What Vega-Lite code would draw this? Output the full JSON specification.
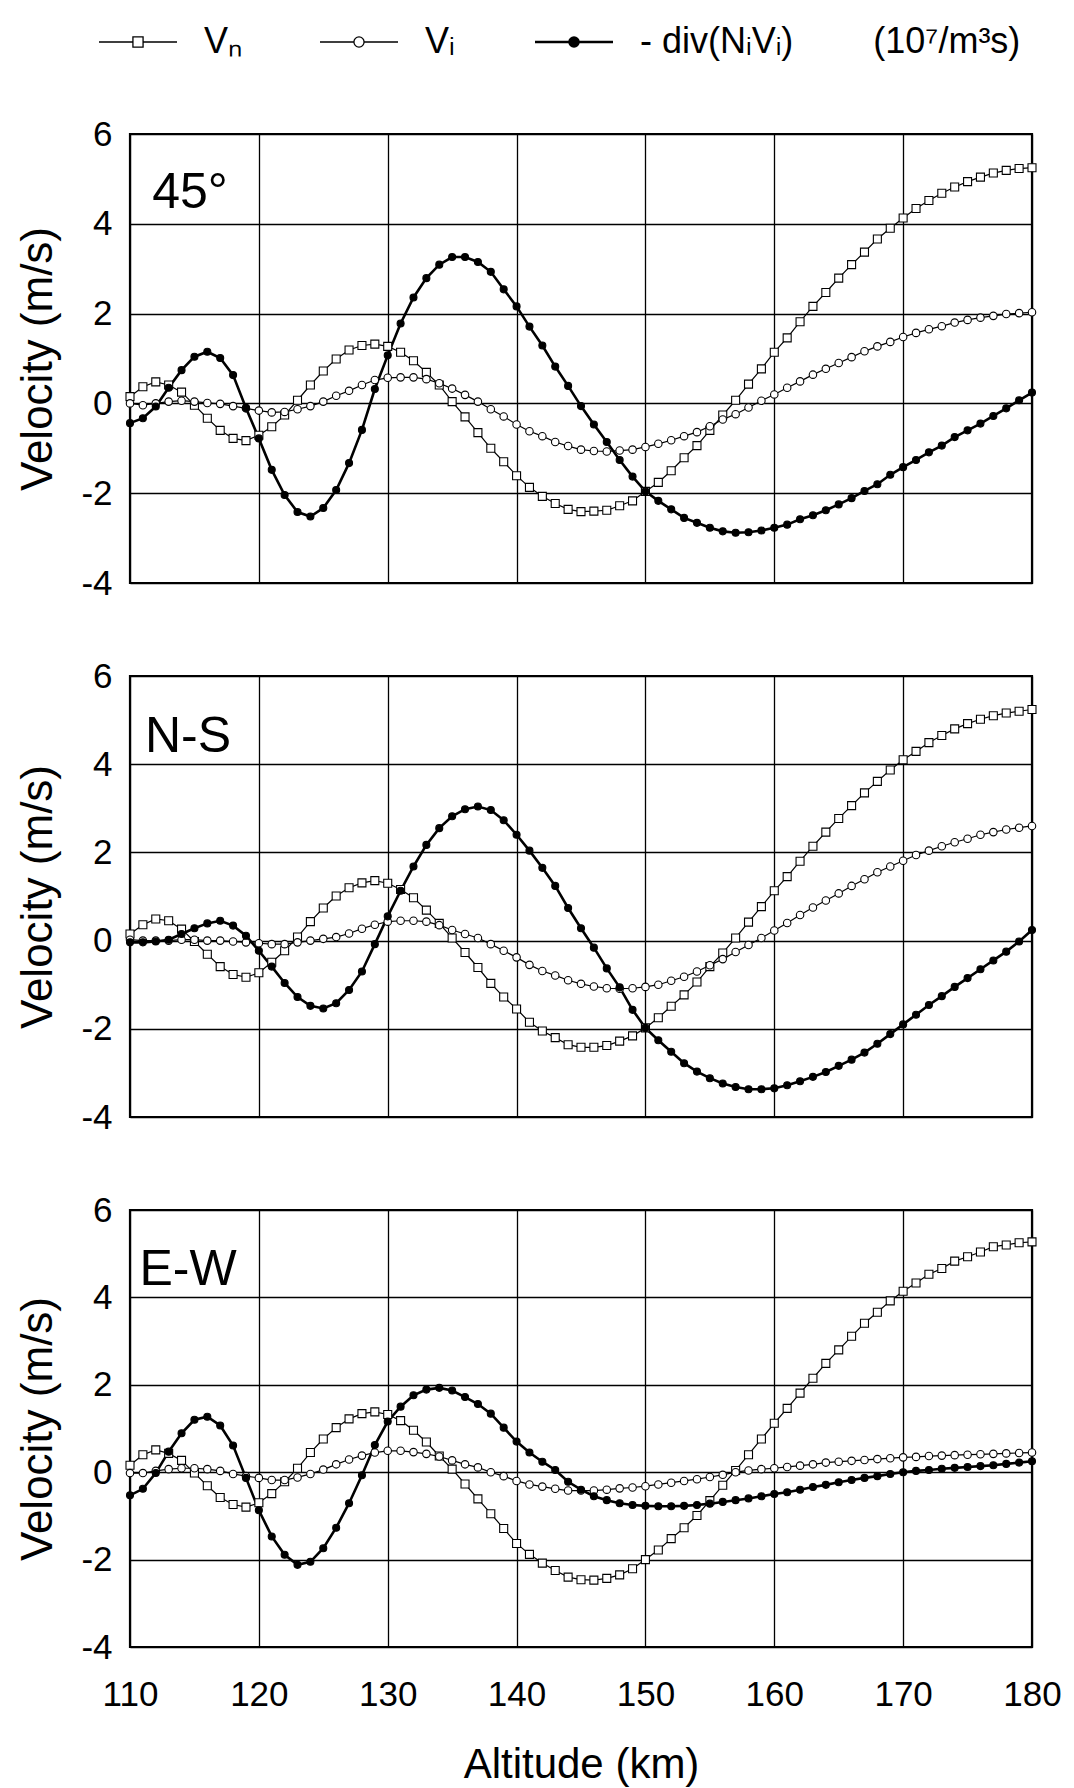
{
  "$schema": "https://vega.github.io/schema/vega-lite/v6.json",
  "background": "white",
  "padding": {"left": 15, "top": 24, "right": 4, "bottom": 2},
  "spacing": 54,
  "config": {
    "font": "Liberation Sans",
    "view": {"stroke": "black", "strokeWidth": 2.2},
    "axis": {
      "grid": true, "gridColor": "black", "gridOpacity": 1, "gridWidth": 1.3,
      "domain": false, "ticks": false, "labelFlush": false,
      "labelFont": "Liberation Sans", "labelFontSize": 35, "labelColor": "black",
      "titleFont": "Liberation Sans", "titleFontWeight": "normal", "titleColor": "black"
    }
  },
  "datasets": {
    "vel": [
      {"p":"a","a":110,"n":0.15,"i":0.00,"d":-0.44},{"p":"a","a":111,"n":0.37,"i":-0.04,"d":-0.33},{"p":"a","a":112,"n":0.48,"i":0.00,"d":-0.07},
      {"p":"a","a":113,"n":0.41,"i":0.04,"d":0.35},{"p":"a","a":114,"n":0.25,"i":0.06,"d":0.74},{"p":"a","a":115,"n":-0.04,"i":0.04,"d":1.04},
      {"p":"a","a":116,"n":-0.33,"i":0.01,"d":1.15},{"p":"a","a":117,"n":-0.60,"i":-0.01,"d":1.01},{"p":"a","a":118,"n":-0.78,"i":-0.06,"d":0.63},
      {"p":"a","a":119,"n":-0.83,"i":-0.11,"d":-0.10},{"p":"a","a":120,"n":-0.71,"i":-0.16,"d":-0.78},{"p":"a","a":121,"n":-0.52,"i":-0.20,"d":-1.48},
      {"p":"a","a":122,"n":-0.26,"i":-0.19,"d":-2.04},{"p":"a","a":123,"n":0.07,"i":-0.13,"d":-2.42},{"p":"a","a":124,"n":0.41,"i":-0.06,"d":-2.52},
      {"p":"a","a":125,"n":0.72,"i":0.04,"d":-2.33},{"p":"a","a":126,"n":0.99,"i":0.17,"d":-1.93},{"p":"a","a":127,"n":1.19,"i":0.28,"d":-1.33},
      {"p":"a","a":128,"n":1.29,"i":0.41,"d":-0.59},{"p":"a","a":129,"n":1.32,"i":0.52,"d":0.32},{"p":"a","a":130,"n":1.27,"i":0.57,"d":1.07},
      {"p":"a","a":131,"n":1.14,"i":0.58,"d":1.78},{"p":"a","a":132,"n":0.95,"i":0.58,"d":2.36},{"p":"a","a":133,"n":0.69,"i":0.54,"d":2.79},
      {"p":"a","a":134,"n":0.41,"i":0.45,"d":3.09},{"p":"a","a":135,"n":0.04,"i":0.33,"d":3.26},{"p":"a","a":136,"n":-0.30,"i":0.19,"d":3.26},
      {"p":"a","a":137,"n":-0.65,"i":0.04,"d":3.15},{"p":"a","a":138,"n":-1.00,"i":-0.13,"d":2.93},{"p":"a","a":139,"n":-1.30,"i":-0.29,"d":2.54},
      {"p":"a","a":140,"n":-1.61,"i":-0.47,"d":2.16},{"p":"a","a":141,"n":-1.87,"i":-0.62,"d":1.71},{"p":"a","a":142,"n":-2.07,"i":-0.73,"d":1.29},
      {"p":"a","a":143,"n":-2.23,"i":-0.86,"d":0.82},{"p":"a","a":144,"n":-2.36,"i":-0.95,"d":0.39},{"p":"a","a":145,"n":-2.41,"i":-1.03,"d":-0.06},
      {"p":"a","a":146,"n":-2.40,"i":-1.06,"d":-0.47},{"p":"a","a":147,"n":-2.38,"i":-1.07,"d":-0.86},{"p":"a","a":148,"n":-2.28,"i":-1.05,"d":-1.26},
      {"p":"a","a":149,"n":-2.17,"i":-1.03,"d":-1.63},{"p":"a","a":150,"n":-1.96,"i":-0.97,"d":-1.96},{"p":"a","a":151,"n":-1.76,"i":-0.90,"d":-2.17},
      {"p":"a","a":152,"n":-1.50,"i":-0.82,"d":-2.36},{"p":"a","a":153,"n":-1.21,"i":-0.73,"d":-2.55},{"p":"a","a":154,"n":-0.94,"i":-0.64,"d":-2.66},
      {"p":"a","a":155,"n":-0.60,"i":-0.51,"d":-2.77},{"p":"a","a":156,"n":-0.26,"i":-0.36,"d":-2.85},{"p":"a","a":157,"n":0.07,"i":-0.24,"d":-2.88},
      {"p":"a","a":158,"n":0.43,"i":-0.09,"d":-2.87},{"p":"a","a":159,"n":0.77,"i":0.06,"d":-2.83},{"p":"a","a":160,"n":1.14,"i":0.20,"d":-2.77},
      {"p":"a","a":161,"n":1.46,"i":0.35,"d":-2.70},{"p":"a","a":162,"n":1.82,"i":0.49,"d":-2.58},{"p":"a","a":163,"n":2.16,"i":0.64,"d":-2.49},
      {"p":"a","a":164,"n":2.47,"i":0.77,"d":-2.38},{"p":"a","a":165,"n":2.79,"i":0.90,"d":-2.25},{"p":"a","a":166,"n":3.09,"i":1.03,"d":-2.11},
      {"p":"a","a":167,"n":3.37,"i":1.16,"d":-1.95},{"p":"a","a":168,"n":3.66,"i":1.27,"d":-1.80},{"p":"a","a":169,"n":3.90,"i":1.37,"d":-1.59},
      {"p":"a","a":170,"n":4.13,"i":1.48,"d":-1.42},{"p":"a","a":171,"n":4.34,"i":1.57,"d":-1.26},{"p":"a","a":172,"n":4.52,"i":1.65,"d":-1.09},
      {"p":"a","a":173,"n":4.68,"i":1.72,"d":-0.94},{"p":"a","a":174,"n":4.82,"i":1.80,"d":-0.75},{"p":"a","a":175,"n":4.94,"i":1.86,"d":-0.60},
      {"p":"a","a":176,"n":5.04,"i":1.91,"d":-0.45},{"p":"a","a":177,"n":5.13,"i":1.95,"d":-0.28},{"p":"a","a":178,"n":5.19,"i":1.99,"d":-0.11},
      {"p":"a","a":179,"n":5.23,"i":2.01,"d":0.07},{"p":"a","a":180,"n":5.25,"i":2.03,"d":0.24},

      {"p":"b","a":110,"n":0.15,"i":0.02,"d":-0.04},{"p":"b","a":111,"n":0.36,"i":0.00,"d":-0.04},{"p":"b","a":112,"n":0.49,"i":0.00,"d":-0.02},
      {"p":"b","a":113,"n":0.45,"i":0.00,"d":0.02},{"p":"b","a":114,"n":0.26,"i":0.02,"d":0.15},{"p":"b","a":115,"n":-0.02,"i":0.02,"d":0.28},
      {"p":"b","a":116,"n":-0.31,"i":0.00,"d":0.39},{"p":"b","a":117,"n":-0.59,"i":0.00,"d":0.45},{"p":"b","a":118,"n":-0.77,"i":-0.02,"d":0.34},
      {"p":"b","a":119,"n":-0.83,"i":-0.04,"d":0.11},{"p":"b","a":120,"n":-0.73,"i":-0.06,"d":-0.23},{"p":"b","a":121,"n":-0.49,"i":-0.08,"d":-0.59},
      {"p":"b","a":122,"n":-0.23,"i":-0.08,"d":-0.96},{"p":"b","a":123,"n":0.08,"i":-0.04,"d":-1.28},{"p":"b","a":124,"n":0.43,"i":0.00,"d":-1.48},
      {"p":"b","a":125,"n":0.74,"i":0.04,"d":-1.54},{"p":"b","a":126,"n":1.01,"i":0.08,"d":-1.42},{"p":"b","a":127,"n":1.20,"i":0.16,"d":-1.12},
      {"p":"b","a":128,"n":1.31,"i":0.27,"d":-0.70},{"p":"b","a":129,"n":1.36,"i":0.36,"d":-0.08},{"p":"b","a":130,"n":1.30,"i":0.43,"d":0.55},
      {"p":"b","a":131,"n":1.16,"i":0.45,"d":1.13},{"p":"b","a":132,"n":0.97,"i":0.45,"d":1.68},{"p":"b","a":133,"n":0.69,"i":0.43,"d":2.17},
      {"p":"b","a":134,"n":0.39,"i":0.35,"d":2.55},{"p":"b","a":135,"n":0.06,"i":0.24,"d":2.82},{"p":"b","a":136,"n":-0.27,"i":0.15,"d":2.98},
      {"p":"b","a":137,"n":-0.61,"i":0.06,"d":3.04},{"p":"b","a":138,"n":-0.97,"i":-0.08,"d":2.96},{"p":"b","a":139,"n":-1.28,"i":-0.23,"d":2.73},
      {"p":"b","a":140,"n":-1.55,"i":-0.38,"d":2.40},{"p":"b","a":141,"n":-1.85,"i":-0.55,"d":2.04},{"p":"b","a":142,"n":-2.05,"i":-0.69,"d":1.65},
      {"p":"b","a":143,"n":-2.20,"i":-0.79,"d":1.24},{"p":"b","a":144,"n":-2.36,"i":-0.90,"d":0.74},{"p":"b","a":145,"n":-2.42,"i":-0.98,"d":0.28},
      {"p":"b","a":146,"n":-2.42,"i":-1.04,"d":-0.16},{"p":"b","a":147,"n":-2.38,"i":-1.08,"d":-0.63},{"p":"b","a":148,"n":-2.28,"i":-1.09,"d":-1.06},
      {"p":"b","a":149,"n":-2.16,"i":-1.08,"d":-1.57},{"p":"b","a":150,"n":-1.98,"i":-1.05,"d":-1.98},{"p":"b","a":151,"n":-1.75,"i":-1.00,"d":-2.26},
      {"p":"b","a":152,"n":-1.49,"i":-0.91,"d":-2.52},{"p":"b","a":153,"n":-1.23,"i":-0.82,"d":-2.78},{"p":"b","a":154,"n":-0.94,"i":-0.70,"d":-2.97},
      {"p":"b","a":155,"n":-0.59,"i":-0.56,"d":-3.12},{"p":"b","a":156,"n":-0.28,"i":-0.42,"d":-3.24},{"p":"b","a":157,"n":0.06,"i":-0.26,"d":-3.32},
      {"p":"b","a":158,"n":0.42,"i":-0.10,"d":-3.37},{"p":"b","a":159,"n":0.77,"i":0.06,"d":-3.37},{"p":"b","a":160,"n":1.13,"i":0.23,"d":-3.35},
      {"p":"b","a":161,"n":1.45,"i":0.40,"d":-3.28},{"p":"b","a":162,"n":1.80,"i":0.58,"d":-3.19},{"p":"b","a":163,"n":2.14,"i":0.75,"d":-3.09},
      {"p":"b","a":164,"n":2.46,"i":0.91,"d":-2.98},{"p":"b","a":165,"n":2.77,"i":1.07,"d":-2.84},{"p":"b","a":166,"n":3.06,"i":1.24,"d":-2.70},
      {"p":"b","a":167,"n":3.35,"i":1.39,"d":-2.54},{"p":"b","a":168,"n":3.61,"i":1.55,"d":-2.34},{"p":"b","a":169,"n":3.87,"i":1.68,"d":-2.12},
      {"p":"b","a":170,"n":4.10,"i":1.81,"d":-1.90},{"p":"b","a":171,"n":4.29,"i":1.94,"d":-1.68},{"p":"b","a":172,"n":4.49,"i":2.04,"d":-1.46},
      {"p":"b","a":173,"n":4.65,"i":2.14,"d":-1.26},{"p":"b","a":174,"n":4.80,"i":2.23,"d":-1.05},{"p":"b","a":175,"n":4.92,"i":2.31,"d":-0.85},
      {"p":"b","a":176,"n":5.02,"i":2.40,"d":-0.65},{"p":"b","a":177,"n":5.10,"i":2.46,"d":-0.45},{"p":"b","a":178,"n":5.16,"i":2.52,"d":-0.25},
      {"p":"b","a":179,"n":5.20,"i":2.56,"d":-0.02},{"p":"b","a":180,"n":5.24,"i":2.60,"d":0.24},

      {"p":"c","a":110,"n":0.16,"i":-0.02,"d":-0.53},{"p":"c","a":111,"n":0.40,"i":-0.02,"d":-0.38},{"p":"c","a":112,"n":0.51,"i":0.03,"d":-0.02},
      {"p":"c","a":113,"n":0.43,"i":0.07,"d":0.47},{"p":"c","a":114,"n":0.27,"i":0.09,"d":0.89},{"p":"c","a":115,"n":-0.02,"i":0.09,"d":1.20},
      {"p":"c","a":116,"n":-0.31,"i":0.07,"d":1.27},{"p":"c","a":117,"n":-0.58,"i":0.03,"d":1.07},{"p":"c","a":118,"n":-0.74,"i":-0.04,"d":0.61},
      {"p":"c","a":119,"n":-0.80,"i":-0.09,"d":-0.13},{"p":"c","a":120,"n":-0.70,"i":-0.13,"d":-0.87},{"p":"c","a":121,"n":-0.49,"i":-0.18,"d":-1.47},
      {"p":"c","a":122,"n":-0.22,"i":-0.18,"d":-1.89},{"p":"c","a":123,"n":0.09,"i":-0.12,"d":-2.12},{"p":"c","a":124,"n":0.45,"i":-0.04,"d":-2.05},
      {"p":"c","a":125,"n":0.76,"i":0.06,"d":-1.74},{"p":"c","a":126,"n":1.02,"i":0.18,"d":-1.27},{"p":"c","a":127,"n":1.22,"i":0.29,"d":-0.71},
      {"p":"c","a":128,"n":1.34,"i":0.38,"d":-0.07},{"p":"c","a":129,"n":1.38,"i":0.45,"d":0.62},{"p":"c","a":130,"n":1.32,"i":0.49,"d":1.16},
      {"p":"c","a":131,"n":1.18,"i":0.49,"d":1.50},{"p":"c","a":132,"n":0.96,"i":0.46,"d":1.76},{"p":"c","a":133,"n":0.69,"i":0.42,"d":1.89},
      {"p":"c","a":134,"n":0.37,"i":0.36,"d":1.93},{"p":"c","a":135,"n":0.07,"i":0.27,"d":1.87},{"p":"c","a":136,"n":-0.27,"i":0.18,"d":1.72},
      {"p":"c","a":137,"n":-0.61,"i":0.11,"d":1.56},{"p":"c","a":138,"n":-0.95,"i":0.00,"d":1.34},{"p":"c","a":139,"n":-1.29,"i":-0.09,"d":1.02},
      {"p":"c","a":140,"n":-1.63,"i":-0.20,"d":0.70},{"p":"c","a":141,"n":-1.88,"i":-0.28,"d":0.45},{"p":"c","a":142,"n":-2.08,"i":-0.33,"d":0.24},
      {"p":"c","a":143,"n":-2.25,"i":-0.38,"d":0.05},{"p":"c","a":144,"n":-2.40,"i":-0.42,"d":-0.22},{"p":"c","a":145,"n":-2.46,"i":-0.42,"d":-0.40},
      {"p":"c","a":146,"n":-2.47,"i":-0.42,"d":-0.55},{"p":"c","a":147,"n":-2.43,"i":-0.40,"d":-0.64},{"p":"c","a":148,"n":-2.35,"i":-0.37,"d":-0.71},
      {"p":"c","a":149,"n":-2.21,"i":-0.35,"d":-0.75},{"p":"c","a":150,"n":-2.00,"i":-0.32,"d":-0.77},{"p":"c","a":151,"n":-1.78,"i":-0.28,"d":-0.78},
      {"p":"c","a":152,"n":-1.52,"i":-0.24,"d":-0.78},{"p":"c","a":153,"n":-1.27,"i":-0.20,"d":-0.77},{"p":"c","a":154,"n":-0.99,"i":-0.16,"d":-0.75},
      {"p":"c","a":155,"n":-0.65,"i":-0.11,"d":-0.72},{"p":"c","a":156,"n":-0.30,"i":-0.06,"d":-0.68},{"p":"c","a":157,"n":0.04,"i":0.00,"d":-0.64},
      {"p":"c","a":158,"n":0.40,"i":0.04,"d":-0.60},{"p":"c","a":159,"n":0.76,"i":0.07,"d":-0.55},{"p":"c","a":160,"n":1.12,"i":0.09,"d":-0.50},
      {"p":"c","a":161,"n":1.46,"i":0.12,"d":-0.46},{"p":"c","a":162,"n":1.81,"i":0.15,"d":-0.40},{"p":"c","a":163,"n":2.15,"i":0.18,"d":-0.34},
      {"p":"c","a":164,"n":2.49,"i":0.22,"d":-0.29},{"p":"c","a":165,"n":2.80,"i":0.24,"d":-0.23},{"p":"c","a":166,"n":3.11,"i":0.26,"d":-0.18},
      {"p":"c","a":167,"n":3.41,"i":0.28,"d":-0.13},{"p":"c","a":168,"n":3.66,"i":0.30,"d":-0.09},{"p":"c","a":169,"n":3.92,"i":0.32,"d":-0.04},
      {"p":"c","a":170,"n":4.14,"i":0.34,"d":0.00},{"p":"c","a":171,"n":4.33,"i":0.35,"d":0.03},{"p":"c","a":172,"n":4.53,"i":0.37,"d":0.05},
      {"p":"c","a":173,"n":4.66,"i":0.38,"d":0.08},{"p":"c","a":174,"n":4.83,"i":0.39,"d":0.10},{"p":"c","a":175,"n":4.93,"i":0.40,"d":0.12},
      {"p":"c","a":176,"n":5.04,"i":0.41,"d":0.14},{"p":"c","a":177,"n":5.16,"i":0.42,"d":0.16},{"p":"c","a":178,"n":5.20,"i":0.43,"d":0.19},
      {"p":"c","a":179,"n":5.25,"i":0.44,"d":0.22},{"p":"c","a":180,"n":5.27,"i":0.45,"d":0.25}
    ]
  },
  "vconcat": [
    {
      "width": 902, "height": 449,
      "layer": [
        {
          "data": {"name": "vel"},
          "transform": [{"filter": "datum.p === 'a'"}, {"fold": ["n", "i", "d"], "as": ["s", "v"]}],
          "encoding": {
            "x": {"field": "a", "type": "quantitative", "scale": {"domain": [110, 180], "nice": false},
                  "axis": {"values": [110, 120, 130, 140, 150, 160, 170, 180], "labels": false, "title": null}},
            "y": {"field": "v", "type": "quantitative", "scale": {"domain": [-4, 6], "nice": false},
                  "axis": {"values": [-4, -2, 0, 2, 4, 6], "labelExpr": "'' + datum.value", "title": "Velocity (m/s)", "titleFontSize": 44, "labelPadding": 18, "titlePadding": 20}}
          },
          "layer": [
            {
              "mark": {"type": "line", "color": "black"},
              "encoding": {
                "detail": {"field": "s"},
                "strokeWidth": {"condition": {"test": "datum.s === 'd'", "value": 2.6}, "value": 1.2}
              }
            },
            {
              "mark": {"type": "point", "filled": true, "stroke": "black", "strokeWidth": 1.1, "opacity": 1},
              "encoding": {
                "shape": {"condition": {"test": "datum.s === 'n'", "value": "square"}, "value": "circle"},
                "fill": {"condition": {"test": "datum.s === 'd'", "value": "black"}, "value": "white"},
                "size": {"condition": [{"test": "datum.s === 'n'", "value": 64}, {"test": "datum.s === 'i'", "value": 56}], "value": 49}
              }
            },
            {
              "transform": [{"filter": "datum.a === 110"}],
              "mark": {"type": "point", "opacity": 0},
              "encoding": {
                "shape": {"field": "s", "type": "nominal",
                  "scale": {"domain": ["n", "i", "d"], "range": [
                    "M-1,0H-0.13M0.13,0H1M-0.13,-0.13H0.13V0.13H-0.13Z",
                    "M-1,0H-0.13M0.13,0H1M-0.13,0A0.13,0.13 0 1,0 0.13,0A0.13,0.13 0 1,0 -0.13,0Z",
                    "M-1,0H1M-0.115,0A0.115,0.115 0 1,0 0.115,0A0.115,0.115 0 1,0 -0.115,0Z"
                  ]},
                  "legend": {
                    "title": null, "orient": "none", "legendX": -10, "legendY": -110, "direction": "horizontal", "padding": 0,
                    "symbolSize": 6084, "symbolStrokeColor": "black", "symbolStrokeWidth": 1.4, "symbolOpacity": 1,
                    "labelFontSize": 36, "labelColor": "black", "labelOffset": 48, "labelLimit": 600, "columnPadding": 74,
                    "labelExpr": "datum.value === 'n' ? 'Vₙ' : datum.value === 'i' ? 'Vᵢ' : '- div(NᵢVᵢ)\u00a0\u00a0\u00a0\u00a0\u00a0\u00a0\u00a0\u00a0(10⁷/m³s)'",
                    "encoding": {"symbols": {
                      "size": {"value": 6084},
                      "opacity": {"value": 1},
                      "fill": {"value": {"expr": "datum.value === 'd' ? 'black' : 'white'"}},
                      "stroke": {"value": "black"},
                      "strokeWidth": {"value": {"expr": "datum.value === 'd' ? 2.6 : 1.3"}}
                    }}
                  }}
              }
            }
          ]
        },
        {
          "data": {"values": [{"label": "45°"}]},
          "mark": {"type": "text", "fontSize": 50, "align": "center", "baseline": "alphabetic", "dx": 60, "dy": 74, "color": "black"},
          "encoding": {"x": {"datum": 110}, "y": {"datum": 6}, "text": {"field": "label"}}
        }
      ]
    },
    {
      "width": 902, "height": 441,
      "layer": [
        {
          "data": {"name": "vel"},
          "transform": [{"filter": "datum.p === 'b'"}, {"fold": ["n", "i", "d"], "as": ["s", "v"]}],
          "encoding": {
            "x": {"field": "a", "type": "quantitative", "scale": {"domain": [110, 180], "nice": false},
                  "axis": {"values": [110, 120, 130, 140, 150, 160, 170, 180], "labels": false, "title": null}},
            "y": {"field": "v", "type": "quantitative", "scale": {"domain": [-4, 6], "nice": false},
                  "axis": {"values": [-4, -2, 0, 2, 4, 6], "labelExpr": "'' + datum.value", "title": "Velocity (m/s)", "titleFontSize": 44, "labelPadding": 18, "titlePadding": 20}}
          },
          "layer": [
            {
              "mark": {"type": "line", "color": "black"},
              "encoding": {
                "detail": {"field": "s"},
                "strokeWidth": {"condition": {"test": "datum.s === 'd'", "value": 2.6}, "value": 1.2}
              }
            },
            {
              "mark": {"type": "point", "filled": true, "stroke": "black", "strokeWidth": 1.1, "opacity": 1},
              "encoding": {
                "shape": {"condition": {"test": "datum.s === 'n'", "value": "square"}, "value": "circle"},
                "fill": {"condition": {"test": "datum.s === 'd'", "value": "black"}, "value": "white"},
                "size": {"condition": [{"test": "datum.s === 'n'", "value": 64}, {"test": "datum.s === 'i'", "value": 56}], "value": 49}
              }
            }
          ]
        },
        {
          "data": {"values": [{"label": "N-S"}]},
          "mark": {"type": "text", "fontSize": 50, "align": "center", "baseline": "alphabetic", "dx": 58, "dy": 76, "color": "black"},
          "encoding": {"x": {"datum": 110}, "y": {"datum": 6}, "text": {"field": "label"}}
        }
      ]
    },
    {
      "width": 902, "height": 437,
      "layer": [
        {
          "data": {"name": "vel"},
          "transform": [{"filter": "datum.p === 'c'"}, {"fold": ["n", "i", "d"], "as": ["s", "v"]}],
          "encoding": {
            "x": {"field": "a", "type": "quantitative", "scale": {"domain": [110, 180], "nice": false},
                  "axis": {"values": [110, 120, 130, 140, 150, 160, 170, 180], "format": "d", "title": "Altitude (km)", "titleFontSize": 42, "labelPadding": 30, "titlePadding": 32}},
            "y": {"field": "v", "type": "quantitative", "scale": {"domain": [-4, 6], "nice": false},
                  "axis": {"values": [-4, -2, 0, 2, 4, 6], "labelExpr": "'' + datum.value", "title": "Velocity (m/s)", "titleFontSize": 44, "labelPadding": 18, "titlePadding": 20}}
          },
          "layer": [
            {
              "mark": {"type": "line", "color": "black"},
              "encoding": {
                "detail": {"field": "s"},
                "strokeWidth": {"condition": {"test": "datum.s === 'd'", "value": 2.6}, "value": 1.2}
              }
            },
            {
              "mark": {"type": "point", "filled": true, "stroke": "black", "strokeWidth": 1.1, "opacity": 1},
              "encoding": {
                "shape": {"condition": {"test": "datum.s === 'n'", "value": "square"}, "value": "circle"},
                "fill": {"condition": {"test": "datum.s === 'd'", "value": "black"}, "value": "white"},
                "size": {"condition": [{"test": "datum.s === 'n'", "value": 64}, {"test": "datum.s === 'i'", "value": 56}], "value": 49}
              }
            }
          ]
        },
        {
          "data": {"values": [{"label": "E-W"}]},
          "mark": {"type": "text", "fontSize": 50, "align": "center", "baseline": "alphabetic", "dx": 58, "dy": 75, "color": "black"},
          "encoding": {"x": {"datum": 110}, "y": {"datum": 6}, "text": {"field": "label"}}
        }
      ]
    }
  ]
}
